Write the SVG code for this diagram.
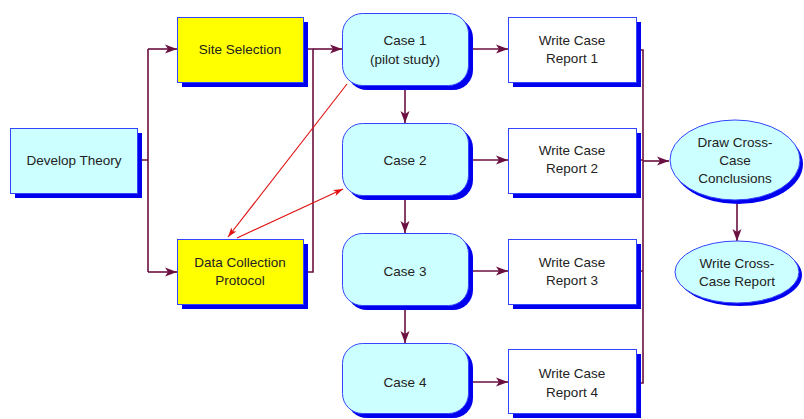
<svg xmlns="http://www.w3.org/2000/svg" width="804" height="419" viewBox="0 0 804 419">
<defs>
<style>
.sh{fill:#0000ee}
.box{stroke:#3344ff;stroke-width:1}
.cy{fill:#ccffff}
.yl{fill:#ffff00}
.wh{fill:#ffffff}
text{font-family:"Liberation Sans",Arial,sans-serif;font-size:13.5px;fill:#222;text-anchor:middle}
.c{fill:none;stroke:#6b1040;stroke-width:1.6}
.r{fill:none;stroke:#e01010;stroke-width:1.1}
</style>
<marker id="a" viewBox="0 0 12 10" refX="12" refY="5" markerWidth="13" markerHeight="10" markerUnits="userSpaceOnUse" orient="auto">
<path d="M0,0.5 L12,5 L0,9.5 L3,5 Z" fill="#6b1040"/>
</marker>
<marker id="ar" viewBox="0 0 12 10" refX="12" refY="5" markerWidth="12" markerHeight="8" markerUnits="userSpaceOnUse" orient="auto">
<path d="M0,1 L12,5 L0,9 L3,5 Z" fill="#e01010"/>
</marker>
</defs>
<rect width="804" height="419" fill="#ffffff"/>
<g id="connectors">
<path class="c" d="M142,160 H148 M148,49 V272"/>
<path class="c" d="M148,49 H177" marker-end="url(#a)"/>
<path class="c" d="M148,272 H177" marker-end="url(#a)"/>
<path class="c" d="M303,49 H313 V272 H308"/>
<path class="c" d="M313,49 H342" marker-end="url(#a)"/>
<path class="c" d="M405,90 V123" marker-end="url(#a)"/>
<path class="c" d="M405,200 V233" marker-end="url(#a)"/>
<path class="c" d="M405,310 V343" marker-end="url(#a)"/>
<path class="c" d="M473,49 H508" marker-end="url(#a)"/>
<path class="c" d="M473,160 H508" marker-end="url(#a)"/>
<path class="c" d="M473,271 H508" marker-end="url(#a)"/>
<path class="c" d="M473,382 H508" marker-end="url(#a)"/>
<path class="c" d="M641,50 H643 V383 H641 M641,160 H643 M641,271 H643"/>
<path class="c" d="M643,161 H669" marker-end="url(#a)"/>
<path class="c" d="M737,204 V241" marker-end="url(#a)"/>
<path class="r" d="M347,84 L228,237" marker-end="url(#ar)"/>
<path class="r" d="M237,238 L343,189" marker-end="url(#ar)"/>
</g>
<g id="develop-theory">
<rect class="sh" x="15" y="133" width="127" height="65"/>
<rect class="box cy" x="10.5" y="128.5" width="127" height="65"/>
<text x="74" y="165">Develop Theory</text>
</g>
<g id="site-selection">
<rect class="sh" x="182" y="22" width="126" height="65"/>
<rect class="box yl" x="177.5" y="17.5" width="126" height="65"/>
<text x="240" y="54">Site Selection</text>
</g>
<g id="data-collection">
<rect class="sh" x="182" y="244" width="126" height="65"/>
<rect class="box yl" x="177.5" y="239.5" width="126" height="65"/>
<text x="240" y="267">Data Collection</text>
<text x="240" y="285">Protocol</text>
</g>
<g id="case1">
<rect class="sh" x="347" y="18" width="126" height="72" rx="20"/>
<rect class="box cy" x="342.5" y="13.5" width="126" height="72" rx="20"/>
<text x="405" y="45">Case 1</text>
<text x="405" y="64">(pilot study)</text>
</g>
<g id="case2">
<rect class="sh" x="347" y="128" width="126" height="72" rx="20"/>
<rect class="box cy" x="342.5" y="123.5" width="126" height="72" rx="20"/>
<text x="405" y="165">Case 2</text>
</g>
<g id="case3">
<rect class="sh" x="347" y="238" width="126" height="72" rx="20"/>
<rect class="box cy" x="342.5" y="233.5" width="126" height="72" rx="20"/>
<text x="405" y="276">Case 3</text>
</g>
<g id="case4">
<rect class="sh" x="347" y="348" width="126" height="70" rx="20"/>
<rect class="box cy" x="342.5" y="343.5" width="126" height="70" rx="20"/>
<text x="405" y="387">Case 4</text>
</g>
<g id="report1">
<rect class="sh" x="513" y="22" width="128" height="65"/>
<rect class="box wh" x="508.5" y="17.5" width="128" height="65"/>
<text x="572" y="45">Write Case</text>
<text x="572" y="63">Report 1</text>
</g>
<g id="report2">
<rect class="sh" x="513" y="133" width="128" height="65"/>
<rect class="box wh" x="508.5" y="128.5" width="128" height="65"/>
<text x="572" y="155">Write Case</text>
<text x="572" y="173">Report 2</text>
</g>
<g id="report3">
<rect class="sh" x="513" y="244" width="128" height="65"/>
<rect class="box wh" x="508.5" y="239.5" width="128" height="65"/>
<text x="572" y="267">Write Case</text>
<text x="572" y="285">Report 3</text>
</g>
<g id="report4">
<rect class="sh" x="513" y="354" width="128" height="64"/>
<rect class="box wh" x="508.5" y="349.5" width="128" height="64"/>
<text x="572" y="378">Write Case</text>
<text x="572" y="397">Report 4</text>
</g>
<g id="draw-conclusions">
<ellipse class="sh" cx="738" cy="164" rx="65" ry="40"/>
<ellipse class="box cy" cx="735" cy="160" rx="65" ry="40"/>
<text x="735" y="147">Draw Cross-</text>
<text x="735" y="165">Case</text>
<text x="735" y="183">Conclusions</text>
</g>
<g id="write-cross-report">
<ellipse class="sh" cx="740" cy="275" rx="62" ry="31"/>
<ellipse class="box cy" cx="737" cy="272" rx="62" ry="31"/>
<text x="737" y="268">Write Cross-</text>
<text x="737" y="286">Case Report</text>
</g>
</svg>
